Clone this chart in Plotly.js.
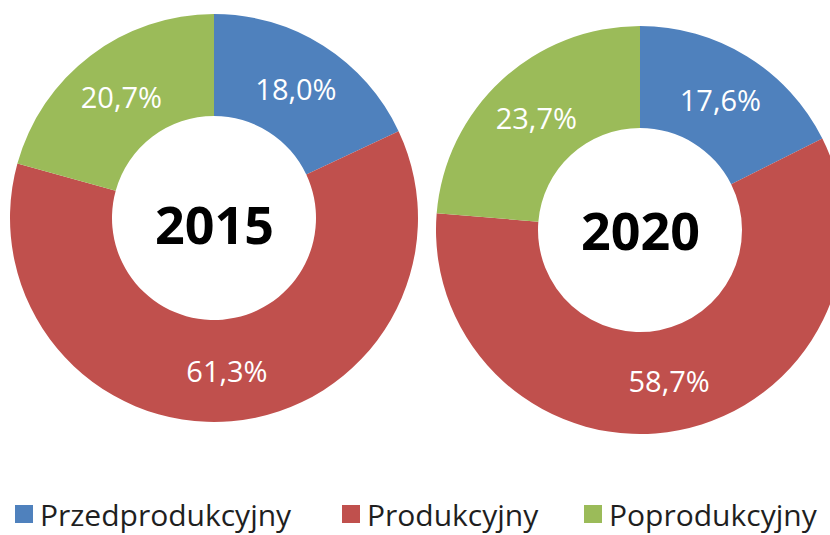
<!DOCTYPE html>
<html>
<head>
<meta charset="utf-8">
<script src="https://cdn.plot.ly/plotly-3.0.1.min.js"></script>
<style>
html,body{margin:0;padding:0;overflow:hidden;background:#fff;}
#chart{width:870px;height:535px;}
</style>
</head>
<body>
<div id="chart"></div>
<script>
// ---- data ----
const categories = ["Przedprodukcyjny", "Produkcyjny", "Poprodukcyjny"];
const years = ["2015", "2020"];
const values2015 = [18.0, 61.3, 20.7];
const values2020 = [17.6, 58.7, 23.7];
const colors = ["#4F81BD", "#C0504D", "#9BBB59"];

// ---- layout geometry (pixels in a 870x535 canvas, page shows 830 wide) ----
const W = 870, H = 535;
const fontFamily = "'Open Sans', Lato, sans-serif";
const pieBoxes = [
  {x0: 10, x1: 418, y0: 14, y1: 422},   // top/bottom from top edge
  {x0: 436, x1: 844, y0: 26, y1: 434}
];
const yearTextY = [223, 229];
const legendSquareX = [15, 342, 584];
const legendSquareY = [505, 523];
const legendTextGap = 5;

function fmt(v){ return v.toFixed(1).replace('.', ',') + '%'; }
function px(x){ return x / W; }
function py(y){ return (H - y) / H; }

function makePie(vals, box){
  return {
    type: 'pie',
    labels: categories,
    values: vals,
    text: vals.map(fmt),
    textinfo: 'text',
    textposition: 'inside',
    insidetextorientation: 'horizontal',
    insidetextfont: {color: '#ffffff', size: 29, family: fontFamily},
    hole: 0.5,
    sort: false,
    direction: 'clockwise',
    rotation: 0,
    marker: {colors: colors, line: {width: 0}},
    domain: {x: [px(box.x0), px(box.x1)], y: [py(box.y1), py(box.y0)]},
    hoverinfo: 'label+text',
    showlegend: false
  };
}

const allValues = [values2015, values2020];
const data = allValues.map((v, i) => makePie(v, pieBoxes[i]));

const annotations = years.map((yr, i) => ({
  xref: 'paper', yref: 'paper',
  x: px((pieBoxes[i].x0 + pieBoxes[i].x1) / 2),
  y: py(yearTextY[i]),
  xanchor: 'center', yanchor: 'middle',
  text: '<b>' + yr + '</b>',
  showarrow: false,
  font: {size: 52, color: '#000000', family: fontFamily}
}));

const shapes = [];
categories.forEach((cat, i) => {
  const sx = legendSquareX[i];
  const side = legendSquareY[1] - legendSquareY[0];
  shapes.push({
    type: 'rect', xref: 'paper', yref: 'paper',
    x0: px(sx), x1: px(sx + side),
    y0: py(legendSquareY[1]), y1: py(legendSquareY[0]),
    fillcolor: colors[i], line: {width: 0}
  });
  annotations.push({
    xref: 'paper', yref: 'paper',
    x: px(sx + side + legendTextGap),
    y: py((legendSquareY[0] + legendSquareY[1]) / 2),
    xanchor: 'left', yanchor: 'middle',
    text: cat,
    showarrow: false,
    font: {size: 30, color: '#1f1f1f', family: fontFamily}
  });
});

const layout = {
  width: W,
  height: H,
  margin: {l: 0, r: 0, t: 0, b: 0, autoexpand: false},
  paper_bgcolor: '#ffffff',
  showlegend: false,
  annotations: annotations,
  shapes: shapes,
  font: {family: fontFamily}
};

Plotly.newPlot('chart', data, layout, {displayModeBar: false, staticPlot: true});
</script>
</body>
</html>
